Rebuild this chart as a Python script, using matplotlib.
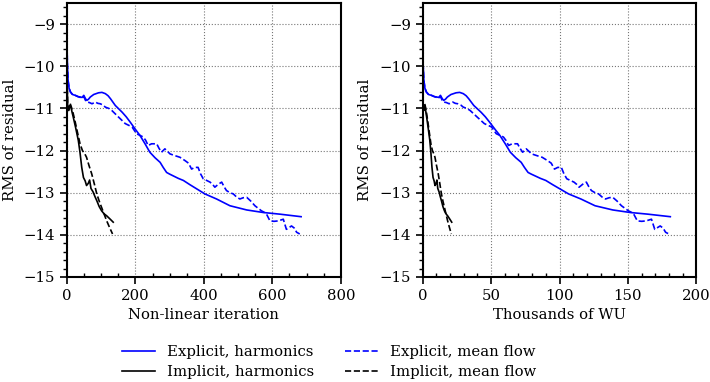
import matplotlib
matplotlib.use("Agg")
import matplotlib.pyplot as plt
from matplotlib.ticker import MultipleLocator
import numpy as np

FS = 10.7
plt.rcParams['font.family'] = ['DejaVu Serif']
plt.rcParams['font.size'] = FS

# ---- data ----
expl_harm_it = [0, 1, 3, 6, 10, 16, 24, 32, 39, 44, 49, 54, 58, 63, 68, 78, 92, 102, 112, 120,
                127, 134, 141, 151, 161, 173, 185, 200, 213, 228, 242, 257, 272, 281, 291, 300, 310,
                325, 340, 359, 379, 403, 437, 476, 525, 573, 622, 684]
expl_harm_val = [-9.5, -9.95, -10.33, -10.52, -10.61, -10.67, -10.69, -10.72, -10.73, -10.74,
                 -10.69, -10.77, -10.81, -10.78, -10.73, -10.67, -10.63, -10.62, -10.65, -10.7,
                 -10.77, -10.85, -10.93, -11.01, -11.09, -11.2, -11.33, -11.5, -11.64, -11.84,
                 -12.04, -12.17, -12.28, -12.4, -12.52, -12.56, -12.6, -12.66, -12.71, -12.81,
                 -12.91, -13.03, -13.15, -13.31, -13.41, -13.47, -13.51, -13.57]

expl_mean_it = [0, 1, 3, 6, 10, 16, 24, 32, 39, 44, 49, 54, 58, 65, 73, 83, 90, 97, 105, 112,
                122, 131, 141, 151, 160, 170, 180, 190, 203, 213, 223, 230, 237, 247, 262, 269, 276,
                286, 301, 315, 330, 345, 355, 364, 373, 383, 390, 398, 418, 425, 432, 442, 452, 459,
                466, 476, 486, 495, 505, 515, 525, 537, 549, 568, 575, 583, 593, 605, 617, 632, 641,
                656, 664, 671, 680]
expl_mean_val = [-9.5, -9.95, -10.33, -10.52, -10.61, -10.67, -10.69, -10.72, -10.74, -10.76,
                 -10.72, -10.81, -10.85, -10.86, -10.89, -10.85, -10.88, -10.89, -10.92, -10.97,
                 -11.0, -11.05, -11.13, -11.21, -11.28, -11.36, -11.4, -11.44, -11.6, -11.64,
                 -11.68, -11.76, -11.88, -11.84, -11.84, -11.95, -12.04, -11.96, -12.08, -12.12,
                 -12.16, -12.24, -12.3, -12.44, -12.4, -12.4, -12.55, -12.67, -12.75, -12.8,
                 -12.87, -12.8, -12.75, -12.86, -12.95, -13.0, -13.03, -13.1, -13.15, -13.12,
                 -13.11, -13.2, -13.31, -13.43, -13.46, -13.51, -13.67, -13.68, -13.67, -13.63,
                 -13.87, -13.79, -13.84, -13.94, -13.98]

impl_harm_it = [0, 2, 5, 8, 11, 15, 18, 25, 33, 38, 43, 48, 53, 57, 62, 66, 70, 76, 82, 87,
                94, 101, 108, 116, 125, 135]
impl_harm_val = [-10.3, -11.0, -11.05, -10.93, -10.95, -11.1, -11.2, -11.45, -11.76, -12.05,
                 -12.4, -12.64, -12.72, -12.83, -12.78, -12.7, -12.9, -12.98, -13.1, -13.19,
                 -13.33, -13.43, -13.5, -13.55, -13.62, -13.7]

impl_mean_it = [0, 2, 5, 9, 14, 18, 23, 30, 38, 45, 52, 57, 64, 72, 80, 87, 94, 101, 108, 116,
                124, 133]
impl_mean_val = [-10.3, -10.95, -11.0, -10.88, -11.0, -11.12, -11.29, -11.55, -11.84, -12.0,
                 -12.08, -12.16, -12.35, -12.55, -12.8, -13.03, -13.2, -13.35, -13.5, -13.67,
                 -13.82, -13.98]

# cost of one iteration in thousands of work units
kwu_per_iter_explicit = 181.0 / 684.0
kwu_per_iter_implicit = 21.2 / 135.0

labels = ["Explicit, harmonics", "Implicit, harmonics",
          "Explicit, mean flow", "Implicit, mean flow"]

# ---- figure ----
fig = plt.figure(figsize=(7.10, 3.82), dpi=100)
ax1 = fig.add_axes([0.0944, 0.275, 0.3856, 0.717])
ax2 = fig.add_axes([0.5954, 0.275, 0.3853, 0.717])

lw = 1.2
blue = "#0000ff"

def draw(ax, se, si):
    h1, = ax.plot(np.array(expl_harm_it) * se, expl_harm_val, color=blue, lw=lw, ls='-')
    h2, = ax.plot(np.array(impl_harm_it) * si, impl_harm_val, color='black', lw=lw, ls='-')
    h3, = ax.plot(np.array(expl_mean_it) * se, expl_mean_val, color=blue, lw=lw, ls='--')
    h4, = ax.plot(np.array(impl_mean_it) * si, impl_mean_val, color='black', lw=lw, ls='--')
    ax.set_ylim(-15, -8.5)
    ax.yaxis.set_major_locator(MultipleLocator(1))
    ax.yaxis.set_minor_locator(MultipleLocator(0.2))
    ax.grid(True, which='major', color='#777777', ls=':', lw=0.8)
    ax.set_ylabel("RMS of residual", labelpad=5)
    for s in ax.spines.values():
        s.set_linewidth(1.5)
    ax.tick_params(which='major', direction='out', length=5, width=1.2, labelsize=FS)
    ax.tick_params(axis='y', which='minor', direction='out', length=3, width=1.0)
    ax.tick_params(axis='x', which='minor', direction='in', length=3, width=1.0)
    return [h1, h2, h3, h4]

handles = draw(ax1, 1.0, 1.0)
ax1.set_xlim(0, 800)
ax1.xaxis.set_major_locator(MultipleLocator(200))
ax1.xaxis.set_minor_locator(MultipleLocator(50))
ax1.set_xlabel("Non-linear iteration")

draw(ax2, kwu_per_iter_explicit, kwu_per_iter_implicit)
ax2.set_xlim(0, 200)
ax2.xaxis.set_major_locator(MultipleLocator(50))
ax2.xaxis.set_minor_locator(MultipleLocator(10))
ax2.set_xlabel("Thousands of WU")

fig.legend(handles, labels, loc='upper left', bbox_to_anchor=(0.1535, 0.131),
           ncol=2, frameon=False, fontsize=FS, handlelength=2.2,
           handletextpad=0.8, columnspacing=2.1, labelspacing=0.4, borderpad=0.4)

fig.savefig("out.png", dpi=100)
